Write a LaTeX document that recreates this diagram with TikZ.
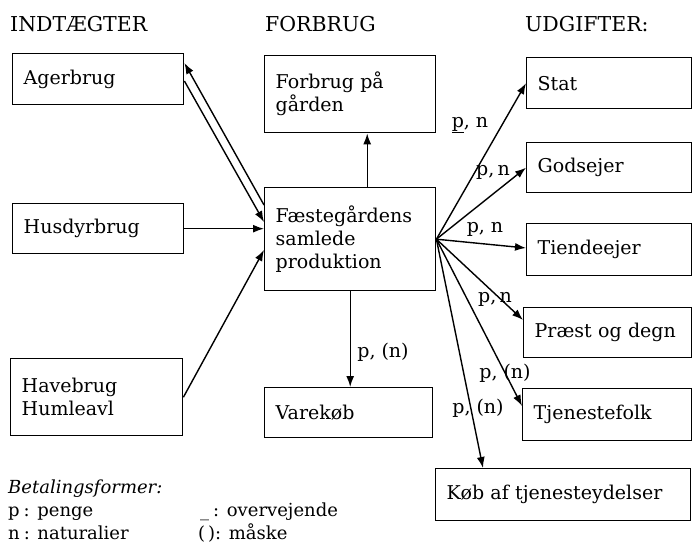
\documentclass[tikz,border=0pt]{standalone}
\usepackage{fontspec}
\setmainfont{DejaVu Serif}
\usetikzlibrary{arrows.meta}
\begin{document}
\begin{tikzpicture}[x=1pt,y=-1pt,
  font=\fontsize{19}{23}\selectfont,
  box/.style={draw, line width=1.4pt, anchor=north west, align=left, inner xsep=11pt, inner ysep=0pt},
  hdr/.style={anchor=base west, inner sep=0pt, font=\fontsize{20.5}{23}\selectfont},
  lbl/.style={inner sep=0pt},
  leg/.style={anchor=base west, inner sep=0pt, font=\fontsize{18}{22}\selectfont},
  conn/.style={line width=1.4pt, -{Latex[length=11pt,width=8pt]}}
]
\useasboundingbox (0,0) rectangle (693,545);

% headers
\node[hdr] (h1) at (10,32) {INDTÆGTER};
\node[hdr] (h2) at (265,32) {FORBRUG};
\node[hdr] (h3) at (525,32) {UDGIFTER:};

% left column
\node[box, text width=149pt, minimum height=51pt] (ager) at (12,53) {Agerbrug};
\node[box, text width=149pt, minimum height=50pt] (hus) at (12,203) {Husdyrbrug};
\node[box, text width=150pt, minimum height=77pt] (have) at (10,358) {Havebrug\\Humleavl};

% middle column
\node[box, text width=149pt, minimum height=77pt] (forbrug) at (264,55) {Forbrug på\\gården};
\node[box, text width=149pt, minimum height=103pt] (faeste) at (264,187) {Fæstegårdens\\samlede\\produktion};
\node[box, text width=146pt, minimum height=50pt] (vare) at (264,387) {Varekøb};

% right column
\node[box, text width=143pt, minimum height=51pt] (stat) at (526,57) {Stat};
\node[box, text width=143pt, minimum height=50pt] (gods) at (526,142) {Godsejer};
\node[box, text width=143pt, minimum height=52pt] (tiende) at (526,223) {Tiendeejer};
\node[box, text width=146pt, minimum height=50pt] (praest) at (523,307) {Præst og degn};
\node[box, text width=147pt, minimum height=52pt] (tjen) at (522,388) {Tjenestefolk};
\node[box, text width=233pt, minimum height=52pt] (kob) at (435,468) {Køb af tjenesteydelser};

% connectors left
\draw[conn] ([yshift=-18pt]faeste.north west) -- ([yshift=-10pt]ager.north east);
\draw[conn] ([yshift=-28pt]ager.north east) -- ([yshift=-35pt]faeste.north west);
\draw[conn] (hus.east) -- (hus.east -| faeste.west);
\draw[conn] (have.east) -- ([yshift=-63pt]faeste.north west);

% middle connectors
\draw[conn] ([xshift=17pt]faeste.north) -- ([xshift=17pt]forbrug.south);
\draw[conn] (faeste.south) -- (faeste.south |- vare.north);

% fan to the right
\draw[conn] (faeste.east) -- (stat.west);
\draw[conn] (faeste.east) -- (gods.west);
\draw[conn] (faeste.east) -- ([yshift=-25pt]tiende.north west);
\draw[conn] (faeste.east) -- ([yshift=-13pt]praest.north west);
\draw[conn] (faeste.east) -- ([yshift=-18pt]tjen.north west);
\draw[conn] (faeste.east) -- ([xshift=48pt]kob.north west);

% labels
\node[lbl] (l1) at (470,125) {\underline{p}, n};
\node[lbl] (l2) at (493,172) {p,\,n};
\node[lbl] (l3) at (485,229) {p, n};
\node[lbl] (l4) at (495,299) {p,\,n};
\node[lbl] (l5) at (505,373) {p, (n)};
\node[lbl] (l6) at (478,408) {p, (n)};
\node[lbl] (l7) at (383,352) {p, (n)};

% legend
\node[leg, font=\fontsize{18}{22}\selectfont\itshape] (lg0) at (8,493) {Betalingsformer:};
\node[leg] (lg1) at (8,516) {p\hspace{4pt}: penge};
\node[leg] (lg2) at (8,539) {n\hspace{4pt}: naturalier};
\node[leg] (lg3) at (200,516) {\_\hspace{4pt}: overvejende};
\node[leg] (lg4) at (198,539) {(\,): måske};
\end{tikzpicture}
\end{document}
